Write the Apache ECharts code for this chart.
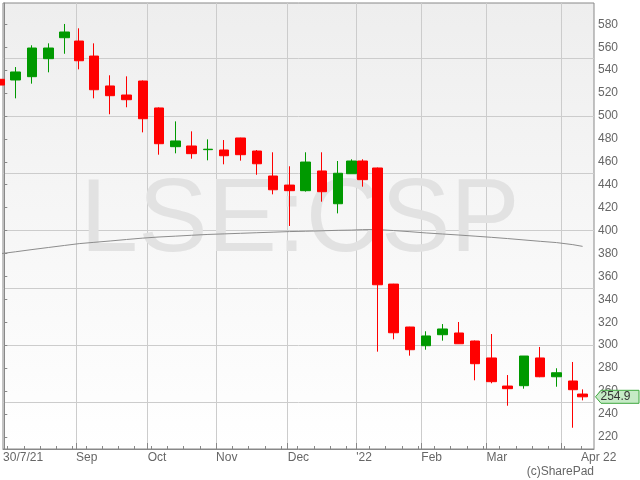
<!DOCTYPE html>
<html><head><meta charset="utf-8">
<script src="https://cdn.jsdelivr.net/npm/echarts@6/dist/echarts.min.js"></script>
<style>html,body{margin:0;padding:0;background:#fff}#c{width:640px;height:480px}</style>
</head><body><div id="c"></div>
<script>
// ---- data ----
const weekStarts = ['2021-07-26','2021-08-02','2021-08-09','2021-08-16','2021-08-23','2021-08-30',
 '2021-09-06','2021-09-13','2021-09-20','2021-09-27','2021-10-04','2021-10-11','2021-10-18','2021-10-25',
 '2021-11-01','2021-11-08','2021-11-15','2021-11-22','2021-11-29','2021-12-06','2021-12-13','2021-12-20',
 '2021-12-27','2022-01-03','2022-01-10','2022-01-17','2022-01-24','2022-01-31','2022-02-07','2022-02-14',
 '2022-02-21','2022-02-28','2022-03-07','2022-03-14','2022-03-21','2022-03-28','2022-04-04','2022-04-11'];
const openV  = [532,531.4,534.3,550.0,568.3,565.4,552.3,526.2,518.3,530.5,507,473.2,473.8,470.6,470.3,480.8,469.4,447.6,439.7,434.8,452,423.4,449.6,460.7,454.6,353.3,315.8,299.5,309.1,310.6,303.6,288.8,264.3,264.6,288.8,272.4,268.7,257.3];
const closeV = [527,538.4,559.3,559.3,573.3,548.2,522.9,517.7,514.2,497.6,475.8,478.2,467.1,471.0,465.3,466.2,458.3,435.6,434.8,459.8,433.9,450,460.7,444.4,352.7,310.8,296,308,314.1,301.2,283.8,268.1,262,290.5,272.4,275.9,261.1,254.9];
const lowV   = [525,515.4,528.2,538.1,554.3,540.7,515.4,501.5,507.6,485.7,466.2,467.4,462.7,461.3,457.8,461,448.7,431.6,404,434,425.2,415,449.6,438.3,294.3,305.1,290.8,296,303.9,301,269.3,266.7,247.1,262,272,263.7,227.9,251.8];
const highV  = [534,542.7,561.7,563.4,580.3,576.5,563.4,535.5,534.6,531,507.5,495.3,486.6,479.6,479,481,470.3,468.3,456.1,468.3,468.3,460.7,462.2,462.2,455,353.5,316,312.1,318.4,320.2,304,309.7,273.9,290.5,298.4,279.8,285.3,261.4];
const maV    = [379.7,381.5,383.4,385.2,387.0,388.6,389.7,390.9,392.2,393.4,394.4,395.1,395.9,396.6,397.1,397.6,398.1,398.6,399.1,399.4,399.8,400.2,400.4,400.8,400.9,400.0,399.0,397.9,397.0,396.1,395.1,394.1,393.0,391.8,390.6,389.5,387.7,386.2];
const lastDate = '2022-04-11';
const holidays = ['2021-08-30','2021-12-27','2021-12-28','2022-01-03','2022-04-15','2022-04-18'];
const xLabels = ['30/7/21','Sep','Oct','Nov','Dec',"'22",'Feb','Mar','Apr 22'];
const xLabelDates = ['2021-07-30','2021-09-01','2021-10-01','2021-11-01','2021-12-01','2022-01-04','2022-02-01','2022-03-01','2022-04-11'];
const monthDates = ['2021-09-01','2021-10-01','2021-11-01','2021-12-01','2022-01-04','2022-02-01','2022-03-01','2022-04-01'];
const yTickLabels = [220,240,260,280,300,320,340,360,380,400,420,440,460,480,500,520,540,560,580];
const yGridValues = [250,300,350,400,450,500,550];
const lastPrice = 254.9;
const ticker = 'LSE:CSP';
const credit = '(c)SharePad';

// ---- trading-day calendar (x scale) ----
const fmt = d => d.toISOString().slice(0,10);
const days = [];
for (let t = Date.UTC(2021,6,26); t <= Date.UTC(2022,3,22); t += 864e5) {
  const d = new Date(t), wd = d.getUTCDay(), s = fmt(d);
  if (wd > 0 && wd < 6 && !holidays.includes(s)) days.push(s);
}
const base = days.indexOf('2021-07-30');
const idx = s => days.indexOf(s) - base;
const xMin = -0.4, xMax = 181.0;
const yMin = 209.35, yMax = 598.6;

const weekDays = weekStarts.map(ws => {
  const t0 = Date.parse(ws), t1 = t0 + 7*864e5;
  return days.filter(d => { const t = Date.parse(d); return t >= t0 && t < t1 && d <= lastDate; });
});
const candleX = weekDays.map(ds => ds.reduce((a,d)=>a+idx(d),0)/ds.length + 0.5);
const weekTicks = weekStarts.map(ws => {
  const t0 = Date.parse(ws), t1 = t0 + 7*864e5;
  const d = days.find(d => { const t = Date.parse(d); return t >= t0 && t < t1; });
  return idx(d);
}).filter(v => v > xMin && v < xMax);
const monthTicks = monthDates.map(idx);
const labelPos = xLabelDates.map((d,i) => i === 0 ? xMin + 0.01 : idx(d));

const chart = echarts.init(document.getElementById('c'), null, {renderer:'canvas'});
const axisGray = '#888888';
chart.setOption({
  animation: false,
  textStyle: {fontFamily: 'Liberation Sans'},
  grid: {left: 3, right: 46, top: 3, bottom: 31, show: true, borderColor: axisGray, borderWidth: 1,
    backgroundColor: new echarts.graphic.LinearGradient(0,0,0,1,[{offset:0,color:'#eeeeee'},{offset:1,color:'#ffffff'}])},
  xAxis: [
    {type:'value', min:xMin, max:xMax, position:'bottom',
     axisLine:{show:true, lineStyle:{color:axisGray}},
     axisTick:{show:true, inside:true, length:3, customValues: weekTicks, lineStyle:{color:axisGray}},
     axisLabel:{customValues: labelPos, align:'left', color:'#666', fontSize:12, margin:3,
       formatter: v => { let best=0, bd=1e9; labelPos.forEach((p,i)=>{const dd=Math.abs(p-v); if(dd<bd){bd=dd;best=i;}}); return xLabels[best]; }},
     splitLine:{show:false}},
    {type:'value', min:xMin, max:xMax, position:'bottom',
     axisLine:{show:false},
     axisTick:{show:true, inside:true, length:6, customValues: monthTicks, lineStyle:{color:axisGray}},
     axisLabel:{show:false},
     splitLine:{show:true, lineStyle:{color:'#cccccc'}}}
  ],
  yAxis: [
    {type:'value', min:yMin, max:yMax, position:'right',
     axisLine:{show:true, lineStyle:{color:axisGray}},
     axisTick:{show:true, length:3, customValues: yTickLabels, lineStyle:{color:axisGray}},
     axisLabel:{customValues: yTickLabels, color:'#666', fontSize:12, margin:4},
     splitLine:{show:false}},
    {type:'value', min:yMin, max:yMax, position:'right',
     axisLine:{show:false},
     axisTick:{show:false, customValues: yGridValues},
     axisLabel:{show:false},
     splitLine:{show:true, lineStyle:{color:'#cccccc'}}}
  ],
  series: [
    {type:'line', xAxisIndex:0, yAxisIndex:0, data: candleX.map((x,i)=>[x, maV[i]]), symbol:'none',
     lineStyle:{color:'#8c8c8c', width:1}, z:2, clip:true},
    {type:'candlestick', xAxisIndex:0, yAxisIndex:0, data: candleX.map((x,i)=>[x, openV[i], closeV[i], lowV[i], highV[i]]),
     barWidth: 10, clip:true, z:3,
     itemStyle:{color:'#009900', color0:'#ff0000', borderColor:'#009900', borderColor0:'#ff0000', borderWidth:1}}
  ]
});

const py = chart.convertToPixel({yAxisIndex:0}, lastPrice);
const ax = chart.convertToPixel({xAxisIndex:0}, xMax);
chart.setOption({
  graphic: [
    {id:'wm', type:'text', x:300, y:222, silent:true, z:0,
     style:{text: ticker, font:'104px "Liberation Sans"', fill:'#e2e2e2', align:'center', verticalAlign:'middle'}},
    {id:'credit', type:'text', x:594, y:472, silent:true, z:10,
     style:{text: credit, font:'12px "Liberation Sans"', fill:'#666', align:'right', verticalAlign:'middle'}},
    {id:'pbox', type:'polygon', silent:true, z:10,
     shape:{points:[[ax+1.5,py],[ax+7,py-6.5],[639,py-6.5],[639,py+6.5],[ax+7,py+6.5]]},
     style:{fill:'#c6eac6', stroke:'#3fa83f', lineWidth:1}},
    {id:'ptxt', type:'text', x:ax+6.5, y:py, silent:true, z:11,
     style:{text: lastPrice.toFixed(1), font:'12px "Liberation Sans"', fill:'#333', align:'left', verticalAlign:'middle'}}
  ]
});
</script></body></html>
